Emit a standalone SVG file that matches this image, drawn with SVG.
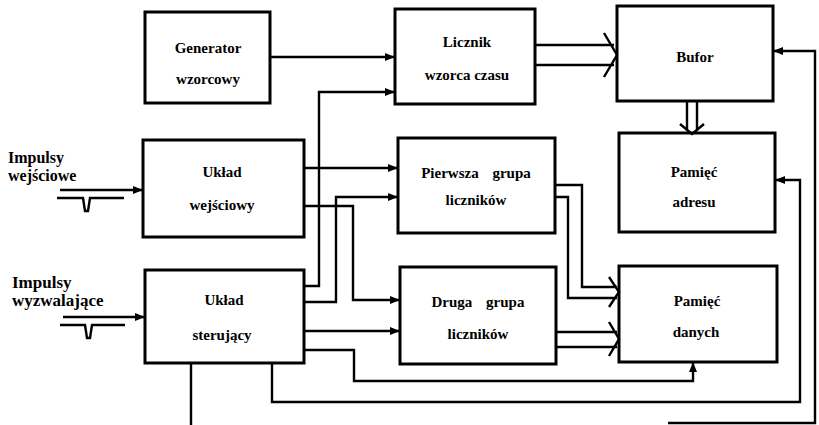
<svg xmlns="http://www.w3.org/2000/svg" width="819" height="425" viewBox="0 0 819 425">
<style>
.box{fill:#fff;stroke:#000;stroke-width:3}
.t{font-family:"Liberation Serif","Times New Roman",serif;font-weight:bold;font-size:15px;text-anchor:middle;fill:#000}
.l{font-family:"Liberation Serif","Times New Roman",serif;font-weight:bold;fill:#000}
.c{fill:none;stroke:#000;stroke-width:2.4}
.a{marker-end:url(#ah)}
</style>
<defs>
<marker id="ah" markerUnits="userSpaceOnUse" markerWidth="10" markerHeight="8" refX="10" refY="4" orient="auto">
<path d="M0,0 L10,4 L0,8 z" fill="#000"/>
</marker>
</defs>
<rect width="819" height="425" fill="#fff"/>

<g id="gen"><rect class="box" x="145" y="12" width="125" height="91"/><text class="t" x="208" y="53">Generator</text><text class="t" x="208" y="84">wzorcowy</text></g>
<g id="licznik"><rect class="box" x="395" y="9" width="140" height="95"/><text class="t" x="467" y="47">Licznik</text><text class="t" x="467" y="80">wzorca czasu</text></g>
<g id="bufor"><rect class="box" x="617" y="6" width="156" height="95"/><text class="t" x="695" y="62">Bufor</text></g>
<g id="wej"><rect class="box" x="143" y="140" width="161" height="97"/><text class="t" x="222" y="177">Układ</text><text class="t" x="222" y="210">wejściowy</text></g>
<g id="pierwsza"><rect class="box" x="398" y="138" width="157" height="95"/><text class="t" x="476" y="178" style="word-spacing:10px">Pierwsza grupa</text><text class="t" x="476" y="205">liczników</text></g>
<g id="padr"><rect class="box" x="619" y="133" width="156" height="99"/><text class="t" x="694" y="177">Pamięć</text><text class="t" x="694" y="207">adresu</text></g>
<g id="ster"><rect class="box" x="145" y="270" width="159" height="93"/><text class="t" x="224" y="305">Układ</text><text class="t" x="222" y="340">sterujący</text></g>
<g id="druga"><rect class="box" x="400" y="267" width="156" height="97"/><text class="t" x="478" y="307" style="word-spacing:10px">Druga grupa</text><text class="t" x="478" y="339">liczników</text></g>
<g id="pdan"><rect class="box" x="619" y="266" width="158" height="96"/><text class="t" x="697" y="306">Pamięć</text><text class="t" x="696" y="337">danych</text></g>

<g id="inputs">
<text class="l" x="8" y="163" font-size="16">Impulsy</text>
<text class="l" x="8" y="181" font-size="16">wejściowe</text>
<text class="l" x="12" y="288" font-size="17">Impulsy</text>
<text class="l" x="12" y="306" font-size="17">wyzwalające</text>
</g>

<g id="connectors">
<path class="c a" d="M60,190 H143"/>
<path class="c" d="M57,198 H83 L85,211 L88,211 L90,198 H124"/>
<path class="c a" d="M63,317 H145"/>
<path class="c" d="M60,325 H85 L87,338 L90,338 L92,325 H125"/>
<path class="c a" d="M270,57 H395"/>
<path class="c a" d="M304,286 H319 V92 H395"/>
<path class="c a" d="M304,168 H398"/>
<path class="c a" d="M304,206 H353 V300 H400"/>
<path class="c a" d="M304,302 H336 V197 H398"/>
<path class="c a" d="M304,331 H400"/>
<path class="c a" d="M304,350 H354 V381 H693 V362"/>
<path class="c a" d="M272,363 V402 H800 V180 H775"/>
<path class="c" d="M191,363 V425"/>
<path class="c a" d="M668,423 H815 V51 H773"/>
<path class="c" d="M535,45 H614 M535,65 H614 M604,33 L617,55 L604,77"/>
<path class="c" d="M687,101 V131 M697,101 V131 M680,124 L692,134 L704,124"/>
<path class="c" d="M555,185 H582 V287 H617 M555,197 H568 V298 H617 M609,277 L619,292 L609,307"/>
<path class="c" d="M556,332 H617 M556,347 H617 M609,322 L619,339 L609,356"/>
</g>
</svg>
